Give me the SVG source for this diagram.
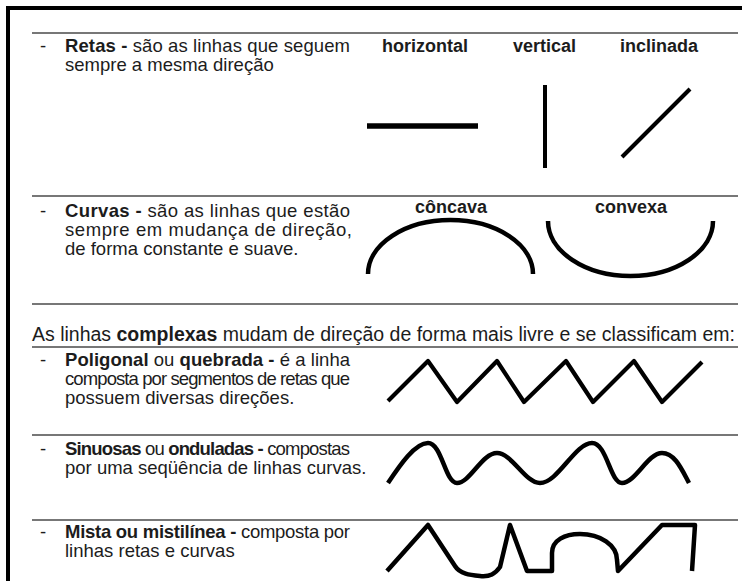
<svg xmlns="http://www.w3.org/2000/svg" width="742" height="581" viewBox="0 0 742 581">
<style>
text{font-family:"Liberation Sans",Arial,sans-serif;font-size:18.5px;fill:#1c1c1c}
.b{font-weight:bold}
.h{font-weight:bold;font-size:18px}
.rule{stroke:#4a4a4a;stroke-width:1.6}
.ln{fill:none;stroke:#000;stroke-linecap:butt;stroke-linejoin:round}
</style>
<rect width="742" height="581" fill="#fff"/>
<path d="M8,581 V8 H742" fill="none" stroke="#000" stroke-width="4"/>
<g id="rules">
<line class="rule" x1="32" y1="33" x2="738" y2="33"/>
<line class="rule" x1="32" y1="196" x2="738" y2="196"/>
<line class="rule" x1="32" y1="304" x2="738" y2="304"/>
<line class="rule" x1="32" y1="347" x2="738" y2="347"/>
<line class="rule" x1="32" y1="435" x2="738" y2="435"/>
<line class="rule" x1="32" y1="520" x2="738" y2="520"/>
</g>
<g id="retas">
<text x="40" y="52">-</text>
<text x="65" y="52" textLength="285" lengthAdjust="spacing"><tspan class="b">Retas -</tspan> são as linhas que seguem</text>
<text x="65" y="71">sempre a mesma direção</text>
<text class="h" x="382" y="52">horizontal</text>
<text class="h" x="513" y="52">vertical</text>
<text class="h" x="620" y="52">inclinada</text>
<line class="ln" x1="367" y1="126" x2="478" y2="126" stroke-width="5.5"/>
<line class="ln" x1="545" y1="85" x2="545" y2="168" stroke-width="4"/>
<line class="ln" x1="622" y1="157" x2="690" y2="89" stroke-width="4"/>
</g>
<g id="curvas">
<text x="40" y="217">-</text>
<text x="65" y="217" textLength="285" lengthAdjust="spacing"><tspan class="b">Curvas -</tspan> são as linhas que estão</text>
<text x="65" y="236" textLength="287" lengthAdjust="spacing">sempre em mudança de direção,</text>
<text x="65" y="255">de forma constante e suave.</text>
<text class="h" x="451" y="213" text-anchor="middle">côncava</text>
<text class="h" x="631" y="213" text-anchor="middle">convexa</text>
<path class="ln" d="M368,274 A82.5,54 0 0 1 533,274" stroke-width="4.5"/>
<path class="ln" d="M548,221 A82.5,55 0 0 0 713,221" stroke-width="4.5"/>
</g>
<g id="complexas">
<text x="32" y="341" style="font-size:19.5px" textLength="703" lengthAdjust="spacing">As linhas <tspan class="b">complexas</tspan> mudam de direção de forma mais livre e se classificam em:</text>
</g>
<g id="poligonal">
<text x="40" y="366">-</text>
<text x="65" y="366" textLength="285" lengthAdjust="spacing"><tspan class="b">Poligonal</tspan> ou <tspan class="b">quebrada -</tspan> é a linha</text>
<text x="65" y="385" textLength="285" lengthAdjust="spacing">composta por segmentos de retas que</text>
<text x="65" y="404">possuem diversas direções.</text>
<polyline class="ln" points="388,401 428,361 457,402 497,361 524,402 566,361 593,402 634,361 662,402 702,362" stroke-width="4.2"/>
</g>
<g id="sinuosas">
<text x="40" y="455">-</text>
<text x="65" y="455" textLength="285" lengthAdjust="spacing"><tspan class="b">Sinuosas</tspan> ou <tspan class="b">onduladas -</tspan> compostas</text>
<text x="65" y="474">por uma seqüência de linhas curvas.</text>
<path class="ln" d="M388,483 C400,465 415,443 428,443 C442,443 445,483 457,483 C470,483 482,453 497,453 C512,453 525,483 540,483 C558,483 575,443 592,443 C607,443 610,483 622,483 C635,483 648,453 662,453 C675,453 682,470 689,483" stroke-width="4.5"/>
</g>
<g id="mista">
<text x="40" y="538">-</text>
<text x="65" y="538" textLength="285" lengthAdjust="spacing"><tspan class="b">Mista ou mistilínea -</tspan> composta por</text>
<text x="65" y="557">linhas retas e curvas</text>
<path class="ln" d="M387,571 L428,525 L455,566 C460,574 470,575 480,576 C490,577 495,574 500,567 L510,525 L527,571 L552,571 L552,553 C552,540 565,534 580,534 C600,534 617,545 617,560 L618,571 L662,525 L695,525 L692,571" stroke-width="4.5"/>
</g>
</svg>
